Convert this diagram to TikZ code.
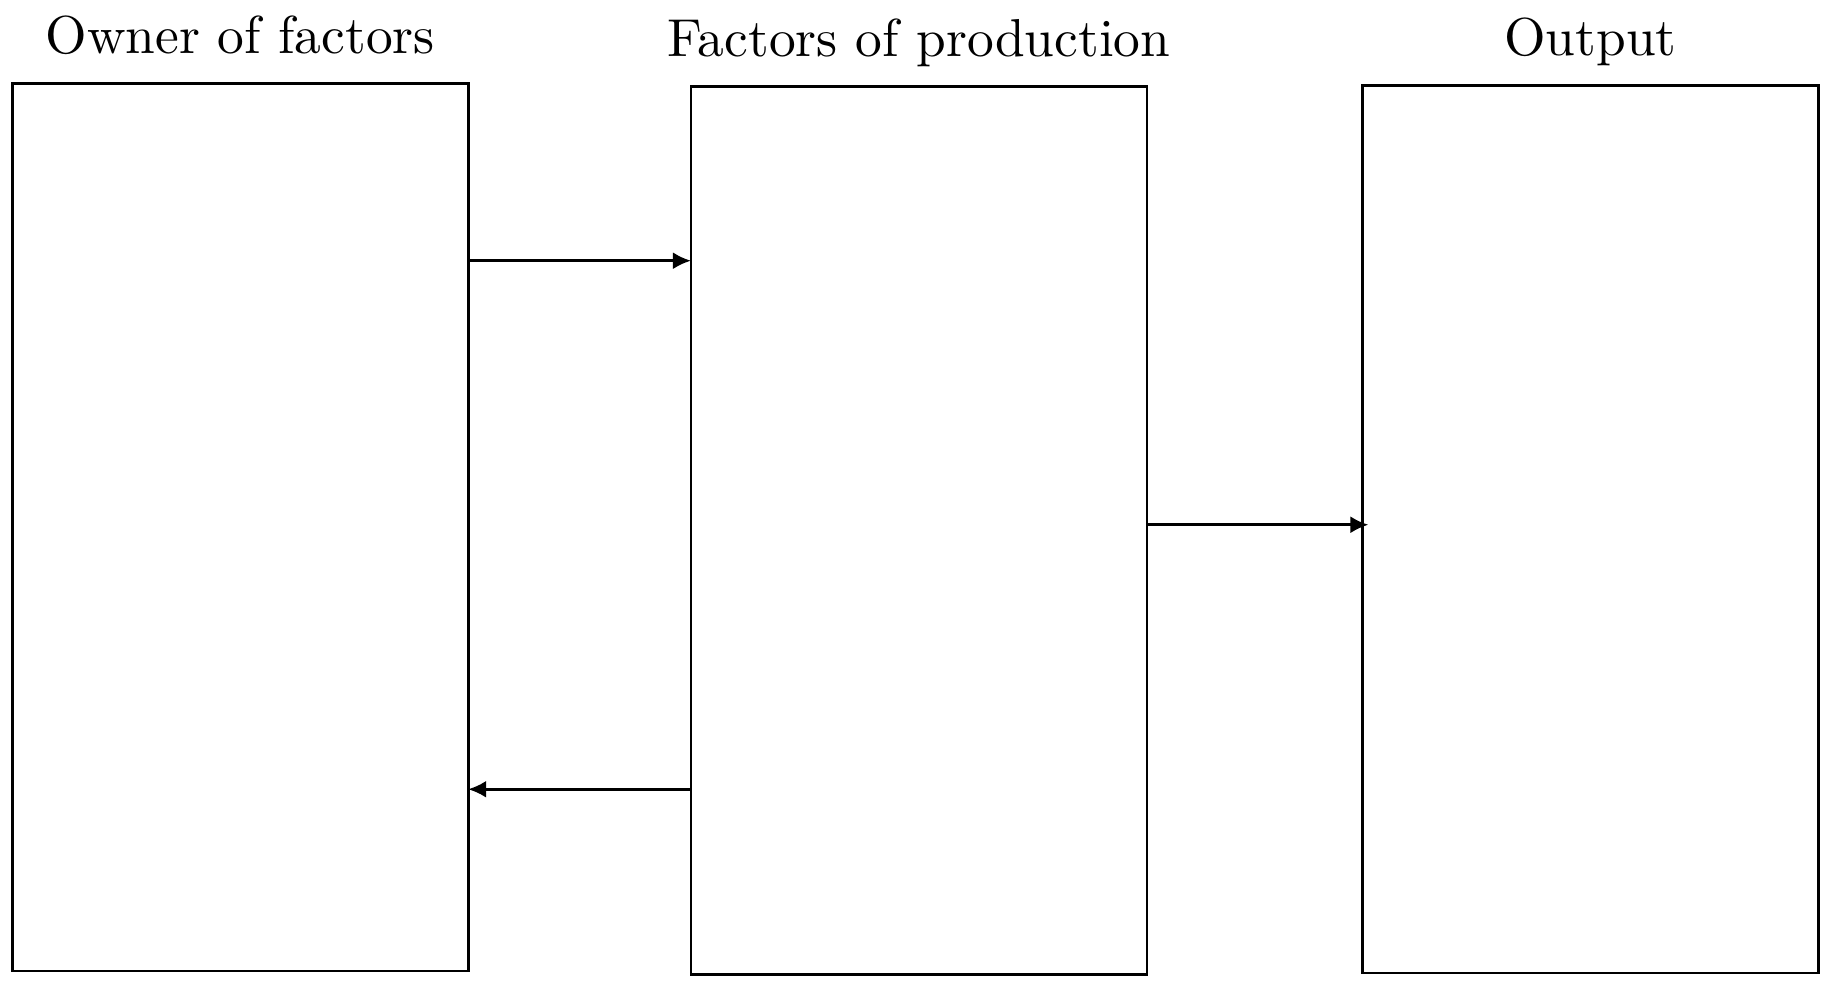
\documentclass[tikz,border=0pt]{standalone}
\usetikzlibrary{arrows.meta,calc}
\font\titlefont="[lmroman10-regular]:mapping=tex-text" at 26.7pt
\begin{document}
\begin{tikzpicture}[x=0.5pt,y=-0.5pt,
  box/.style={draw,line width=1.3pt,rectangle,inner sep=0pt,outer sep=0pt,minimum width=228pt,minimum height=443.8pt},
  title/.style={anchor=base,inner sep=0pt,font=\titlefont},
  arr/.style={line width=1.3pt,-{Latex[length=9pt,width=8.5pt]}}]
\useasboundingbox (0,0) rectangle (1825,980);
\node[box] (b1) at (240.2,527) {};
\node[box] (b2) at (918.9,530.5) {};
\node[box] (b3) at (1590.4,529.2) {};
\node[title] (t1) at ($(b1.north)+(0,-30)$) {Owner of factors};
\node[title] (t2) at ($(b2.north)+(0,-30)$) {Factors of production};
\node[title] (t3) at ($(b3.north)+(0,-30)$) {Output};
\coordinate (a1) at ($(b1.north east)!0.2!(b1.south east)$);
\coordinate (a2) at ($(b2.north east)!0.4935!(b2.south east)$);
\coordinate (a3) at ($(b2.north west)!0.7915!(b2.south west)$);
\draw[arr] (a1) -- (a1 -| b2.west);
\draw[arr,shorten >=-3pt] (a2) -- (a2 -| b3.west);
\draw[arr] (a3) -- (a3 -| b1.east);
\end{tikzpicture}
\end{document}
